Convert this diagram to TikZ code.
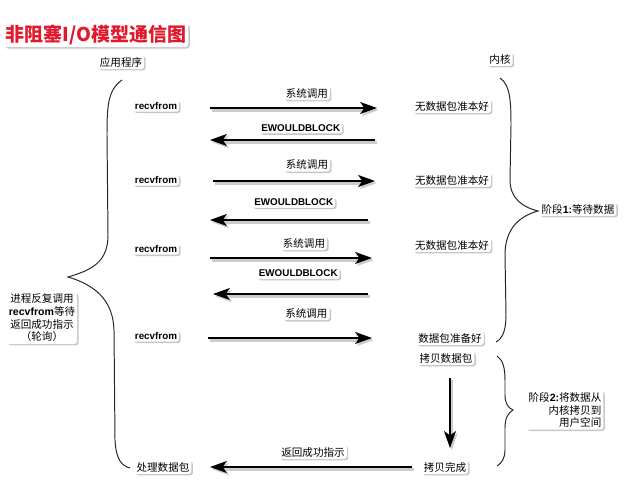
\documentclass[tikz,border=0pt]{standalone}
\usepackage{fontspec}
\setmainfont{Liberation Sans}
\newfontfamily\cjk{Noto Sans CJK SC}
\usetikzlibrary{arrows.meta, positioning, shadows}
\definecolor{titlered}{RGB}{225,25,45}

\begin{document}
\begin{tikzpicture}[x=0.025cm, y=-0.025cm,
  lbl/.style={rectangle, rounded corners=2pt, fill=white, inner sep=1.5pt,
              font=\cjk\fontsize{7.5}{9}\selectfont,
              drop shadow={shadow xshift=1pt, shadow yshift=-1pt, opacity=0.45}},
  cmd/.style={lbl, font=\bfseries\fontsize{7}{8.5}\selectfont},
  callarrow/.style={-{Stealth[length=12pt, width=8.5pt, inset=3pt]}, line width=1.3pt,
                    preaction={draw=black!20, line width=2pt,
                               transform canvas={xshift=1.2pt, yshift=-1.5pt}}},
  bracepath/.style={line width=0.7pt, black!85}
]
\useasboundingbox (0,0) rectangle (640,490);

% Title and column heads
\node[lbl, text=titlered, font=\cjk\bfseries\fontsize{13.5}{15}\selectfont] (title) at (96,35) {非阻塞I/O模型通信图};
\node[lbl] (app) at (121,62) {应用程序};
\node[lbl] (kernel) at (500,59) {内核};

% Application side
\node[cmd] (recv1) at (156,106) {recvfrom};
\node[cmd] (recv2) at (156,180) {recvfrom};
\node[cmd] (recv3) at (156,249) {recvfrom};
\node[cmd] (recv4) at (156,336) {recvfrom};
\node[lbl] (handle) at (163,467) {处理数据包};

% Kernel side
\node[lbl] (nodata1) at (452,106) {无数据包准本好};
\node[lbl] (nodata2) at (452,180) {无数据包准本好};
\node[lbl] (nodata3) at (452,245) {无数据包准本好};
\node[lbl] (ready) at (450,338) {数据包准备好};
\node[lbl] (copy) at (446,358) {拷贝数据包};
\node[lbl] (copydone) at (445,467) {拷贝完成};

% Phase labels
\node[lbl, align=center] (poll) at (42,318) {进程反复调用\\{\rmfamily\bfseries recvfrom}等待\\返回成功指示\\（轮询）};
\node[lbl] (phase1) at (578,209) {阶段{\rmfamily\bfseries 1:}等待数据};
\node[lbl, align=right] (phase2) at (565,410) {阶段{\rmfamily\bfseries 2:}将数据从\\内核拷贝到\\用户空间};

% Arrow ends
\coordinate (call1a) at (210,108);  \coordinate (call1b) at (377,108);
\coordinate (ret1a)  at (375,140);  \coordinate (ret1b)  at (210,140);
\coordinate (call2a) at (213,181);  \coordinate (call2b) at (375,181);
\coordinate (ret2a)  at (368,220);  \coordinate (ret2b)  at (210,220);
\coordinate (call3a) at (210,258);  \coordinate (call3b) at (372,258);
\coordinate (ret3a)  at (368,294);  \coordinate (ret3b)  at (213,294);
\coordinate (call4a) at (208,338);  \coordinate (call4b) at (372,338);
\coordinate (copya)  at (450,378);  \coordinate (copyb)  at (450,448);
\coordinate (okA)    at (412,467);  \coordinate (okB)    at (210,467);

% Arrows
\draw[callarrow] (call1a) -- node[lbl, pos=0.58, above=5pt] (sys1) {系统调用} (call1b);
\draw[callarrow] (ret1a) -- node[cmd, pos=0.45, above=4pt] (ewb1) {EWOULDBLOCK} (ret1b);
\draw[callarrow] (call2a) -- node[lbl, pos=0.58, above=6pt] (sys2) {系统调用} (call2b);
\draw[callarrow] (ret2a) -- node[cmd, pos=0.47, above=8pt] (ewb2) {EWOULDBLOCK} (ret2b);
\draw[callarrow] (call3a) -- node[lbl, pos=0.58, above=5pt] (sys3) {系统调用} (call3b);
\draw[callarrow] (ret3a) -- node[cmd, pos=0.45, above=10pt] (ewb3) {EWOULDBLOCK} (ret3b);
\draw[callarrow] (call4a) -- node[lbl, pos=0.6, above=12pt] (sys4) {系统调用} (call4b);
\draw[callarrow] (copya) -- (copyb);
\draw[callarrow] (okA) -- node[lbl, pos=0.49, above=5pt] (okmsg) {返回成功指示} (okB);

% Braces
\draw[bracepath] (122,80) .. controls (108,90) and (107,105) .. (107,135)
  -- (108,235) .. controls (108,262) and (92,270) .. (68,277)
  .. controls (95,285) and (113,300) .. (114,330)
  -- (115,440) .. controls (116,460) and (122,466) .. (130,468);
\draw[bracepath] (500,78) .. controls (510,85) and (511,100) .. (511,125)
  -- (510,180) .. controls (510,198) and (522,207) .. (538,211)
  .. controls (520,216) and (505,228) .. (505,255)
  -- (506,315) .. controls (506,330) and (503,338) .. (496,342);
\draw[bracepath] (497,356) .. controls (503,360) and (505,368) .. (505,380)
  -- (505,395) .. controls (505,403) and (508,408) .. (513,410)
  .. controls (508,413) and (505,418) .. (505,428)
  -- (505,450) .. controls (505,458) and (502,463) .. (497,466);
\end{tikzpicture}
\end{document}
